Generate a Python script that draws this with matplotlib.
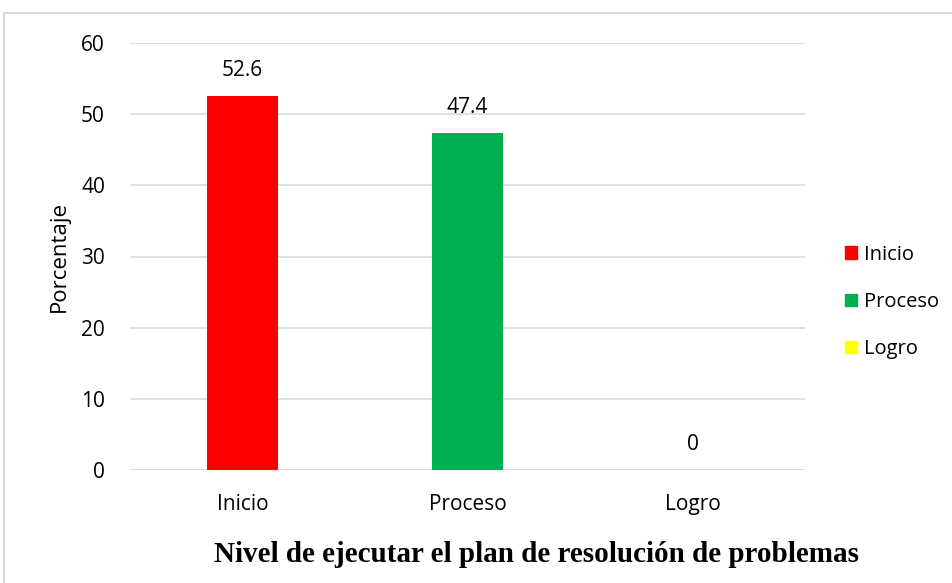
import matplotlib
matplotlib.use("Agg")
import matplotlib.pyplot as plt
from matplotlib.patches import Rectangle, Patch

categories = ["Inicio", "Proceso", "Logro"]
values = [52.6, 47.4, 0]
colors = ["#ff0000", "#00b050", "#ffff00"]
yticks = [0, 10, 20, 30, 40, 50, 60]

plt.rcParams['font.family'] = ['Open Sans', 'DejaVu Sans']

fig = plt.figure(figsize=(9.53, 5.83), dpi=100)
ax = fig.add_axes([130/953, 1-470/583, 675/953, 427/583])

x = list(range(len(categories)))
bars = ax.bar(x, values, width=0.316, color=colors, zorder=3)
for xi, v in zip(x, values):
    ax.text(xi, v + 2.1, f"{v:g}", ha="center", va="bottom", fontsize=15, color="#000000")

ax.set_xlim(-0.5, 2.5)
ax.set_ylim(0, 60)
ax.set_yticks(yticks)
ax.set_yticklabels([str(t) for t in yticks], fontsize=15)
ax.set_xticks(x)
ax.set_xticklabels(categories, fontsize=15)
ax.tick_params(axis='y', length=0, pad=18)
ax.tick_params(axis='x', length=0, pad=17)
ax.grid(axis='y', color='#d9d9d9', linewidth=1.2, zorder=0)
for s in ax.spines.values():
    s.set_visible(False)
ax.set_ylabel("Porcentaje", fontsize=16, labelpad=8)

handles = [Patch(color=c, label=l) for c, l in zip(colors, categories)]
fig.legend(handles=handles, loc="center left", bbox_to_anchor=(827/953, 1-302/583),
           frameon=False, fontsize=14.5, handlelength=0.6, handleheight=0.6,
           handletextpad=0.35, labelspacing=1.35)

fig.text(537/953, 1-555/583, "Nivel de ejecutar el plan de resolución de problemas",
         ha="center", va="center", fontsize=21, fontweight="bold", family="Liberation Serif")

fig.patches.append(Rectangle((4/953, -0.1), 1.2, 1-13/583+0.1, transform=fig.transFigure,
                             fill=False, edgecolor="#d9d9d9", linewidth=1.5))

fig.savefig("out.png", dpi=100)
